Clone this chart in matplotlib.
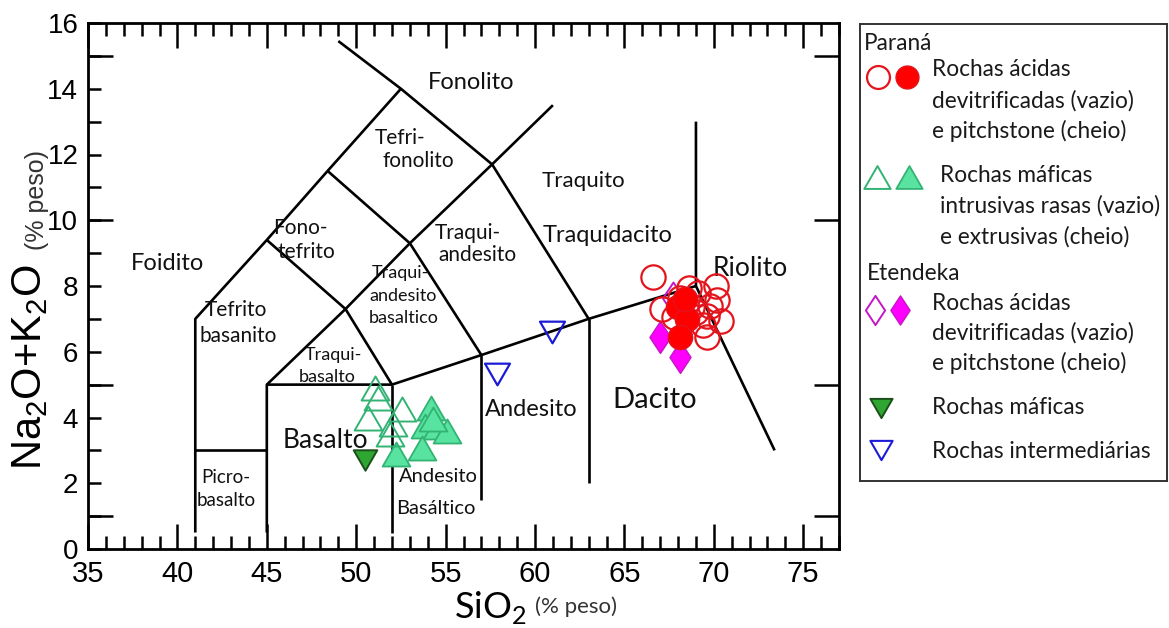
import matplotlib
matplotlib.use("Agg")
import matplotlib.pyplot as plt
from matplotlib.path import Path
from matplotlib.ticker import MultipleLocator, FixedLocator, NullFormatter

plt.rcParams['font.family'] = ['Lato', 'DejaVu Sans']

# ---- TAS classification boundaries (SiO2, Na2O+K2O) ----
BOUNDARIES = [
    [(41, 0.5), (41, 7), (45, 9.4), (48.4, 11.5), (52.5, 14), (49.0, 15.45)],
    [(41, 3), (45, 3)],
    [(45, 0.5), (45, 5), (49.4, 7.3), (53, 9.3), (57.6, 11.7), (61, 13.5)],
    [(45, 5), (52, 5), (57, 5.9), (63, 7), (69, 8)],
    [(52, 0.5), (52, 5)],
    [(57, 1.5), (57, 5.9)],
    [(63, 2), (63, 7)],
    [(45, 9.4), (49.4, 7.3), (52, 5)],
    [(48.4, 11.5), (53, 9.3), (57, 5.9)],
    [(52.5, 14), (57.6, 11.7), (63, 7)],
    [(69, 13), (69, 8), (73.4, 3)],
]

# field names: (text, SiO2, alkalis, fontsize)
FIELD_LABELS = [
    ("Fonolito", 56.4, 14.18, 17),
    ("Tefri-", 52.45, 12.51, 15),
    ("fonolito", 53.46, 11.81, 15),
    ("Traquito", 62.7, 11.2, 16),
    ("Fono-", 46.86, 9.75, 15),
    ("tefrito", 47.19, 9.02, 15),
    ("Foidito", 39.42, 8.68, 17),
    ("Traqui-", 56.25, 9.62, 15),
    ("andesito", 56.76, 8.93, 15),
    ("Traquidacito", 64.08, 9.53, 17),
    ("Riolito", 72.02, 8.53, 19),
    ("Tefrito", 43.28, 7.26, 15),
    ("basanito", 43.39, 6.47, 15),
    ("Traqui-", 52.45, 8.41, 13),
    ("andesito", 52.62, 7.71, 13),
    ("basaltico", 52.67, 7.04, 13),
    ("Traqui-", 48.7, 5.89, 13),
    ("basalto", 48.37, 5.22, 13),
    ("Basalto", 48.3, 3.3, 19),
    ("Andesito", 59.8, 4.25, 17),
    ("Dacito", 66.7, 4.52, 21),
    ("Andesito", 54.6, 2.2, 14.5),
    ("Basáltico", 54.45, 1.24, 14.5),
    ("Picro-", 42.72, 2.16, 13.5),
    ("basalto", 42.72, 1.49, 13.5),
]

# ---- samples ----
# Paraná acid rocks: devitrified (open) and pitchstone (filled)
parana_dev_sio2 = [66.6, 68.6, 69.1, 70.1, 70.2, 69.8, 70.4, 69.6, 67.1, 68.1, 69.4, 69.6, 67.8, 68.8, 69.0]
parana_dev_alk = [8.26, 7.95, 7.8, 8.0, 7.56, 7.4, 6.95, 7.1, 7.3, 7.65, 6.8, 6.45, 7.05, 7.35, 7.2]
parana_pit_sio2 = [68.0, 68.5, 68.4, 68.1]
parana_pit_alk = [7.35, 7.0, 7.6, 6.45]

# Paraná mafic rocks: shallow intrusive (open) and extrusive (filled)
parana_intr_sio2 = [51.05, 51.2, 50.66, 52.56, 51.9, 52.06]
parana_intr_alk = [4.89, 4.6, 3.98, 4.25, 3.49, 3.8]
parana_extr_sio2 = [54.2, 53.85, 54.5, 55.1, 53.7, 52.2, 54.3]
parana_extr_alk = [4.28, 3.75, 3.7, 3.6, 3.07, 2.9, 3.95]

# Etendeka acid rocks
etendeka_dev_sio2 = [67.7]
etendeka_dev_alk = [7.65]
etendeka_pit_sio2 = [67.0, 68.1]
etendeka_pit_alk = [6.45, 5.83]

# other groups
mafic_sio2 = [50.5]
mafic_alk = [2.7]
inter_sio2 = [60.95, 57.87]
inter_alk = [6.59, 5.31]


def closed(verts):
    return Path(list(verts) + [verts[0]], closed=True)


TRI_UP = closed([(0, 0.866), (-1, -0.866), (1, -0.866)])
TRI_DN = closed([(0, -0.866), (1, 0.866), (-1, 0.866)])
DIAMOND = closed([(0, 1), (0.66, 0), (0, -1), (-0.66, 0)])

RED = '#ff0000'
RED_EDGE = '#e3141c'
GREEN_FILL = '#58e3a0'
GREEN_EDGE = '#32b374'
MAG = '#ff00ff'
MAG_EDGE = '#c418c4'
DKGREEN = '#2fa632'
DKGREEN_EDGE = '#1b4f1b'
BLUE = '#1b1bd6'

W, H = 1169, 628
fig = plt.figure(figsize=(W / 100, H / 100), dpi=100)
ax = fig.add_axes([88 / W, 1 - 549 / H, (839 - 88) / W, (549 - 23) / H])
ax.set_xlim(35, 77)
ax.set_ylim(0, 16)

for seg in BOUNDARIES:
    xs, ys = zip(*seg)
    ax.plot(xs, ys, color='black', lw=1.9, zorder=2, solid_capstyle='butt')

for txt, x, y, fs in FIELD_LABELS:
    ax.text(x, y, txt, fontsize=fs, ha='center', va='center', color='#111111', zorder=3)

ax.plot(etendeka_pit_sio2, etendeka_pit_alk, ls='none', marker=DIAMOND, ms=23,
        mfc=MAG, mec=MAG_EDGE, mew=1.0, zorder=4)
ax.plot(etendeka_dev_sio2, etendeka_dev_alk, ls='none', marker=DIAMOND, ms=23,
        mfc='none', mec=MAG_EDGE, mew=1.4, zorder=4)
ax.plot(parana_dev_sio2, parana_dev_alk, ls='none', marker='o', ms=17.5,
        mfc='none', mec=RED_EDGE, mew=1.6, zorder=5)
ax.plot(parana_pit_sio2, parana_pit_alk, ls='none', marker='o', ms=17.5,
        mfc=RED, mec=RED_EDGE, mew=1.0, zorder=6)

ax.plot(mafic_sio2, mafic_alk, ls='none', marker=TRI_DN, ms=17,
        mfc=DKGREEN, mec=DKGREEN_EDGE, mew=1.4, zorder=4)
ax.plot(parana_extr_sio2, parana_extr_alk, ls='none', marker=TRI_UP, ms=20,
        mfc=GREEN_FILL, mec=GREEN_EDGE, mew=1.3, zorder=5)
ax.plot(parana_intr_sio2, parana_intr_alk, ls='none', marker=TRI_UP, ms=20,
        mfc='none', mec=GREEN_EDGE, mew=1.4, zorder=6)
ax.plot(inter_sio2, inter_alk, ls='none', marker=TRI_DN, ms=18,
        mfc='none', mec=BLUE, mew=1.6, zorder=5)

# axes frame and ticks
for sp in ax.spines.values():
    sp.set_linewidth(2.0)
ax.xaxis.set_major_locator(MultipleLocator(5))
ax.xaxis.set_minor_locator(MultipleLocator(1))
ax.yaxis.set_major_locator(MultipleLocator(2))
ax.yaxis.set_minor_locator(MultipleLocator(1))
ax.tick_params(which='both', direction='in', top=True, right=True, width=1.8)
ax.tick_params(axis='x', which='major', length=18, pad=8)
ax.tick_params(axis='x', which='minor', length=9.5)
ax.tick_params(axis='y', which='major', length=9.5, pad=7)
ax.tick_params(axis='y', which='minor', length=9.5)
for lab in ax.get_xticklabels():
    lab.set_family('Liberation Sans')
    lab.set_fontsize(21)
for lab in ax.get_yticklabels():
    lab.set_family('Liberation Sans')
    lab.set_fontsize(20)

# longer y ticks on both sides
ax2 = ax.twinx()
ax2.set_ylim(ax.get_ylim())
ax2.yaxis.set_major_locator(FixedLocator([1, 5, 10, 15]))
ax2.yaxis.set_major_formatter(NullFormatter())
ax2.tick_params(axis='y', which='major', direction='in', left=True, right=True,
                length=18, width=1.8, labelleft=False, labelright=False)
for sp in ax2.spines.values():
    sp.set_visible(False)

# axis titles
fig.text(30 / W, 1 - 470 / H, r'Na$_\mathregular{2}$O+K$_\mathregular{2}$O',
         rotation=90, ha='center', va='bottom', fontsize=30, family='Liberation Sans')
fig.text(37 / W, 1 - 250 / H, '(% peso)', rotation=90, ha='center', va='bottom',
         fontsize=18, family='Liberation Sans', color='#333333')
fig.text(527 / W, 1 - 607 / H, r'SiO$_\mathregular{2}$', ha='right', va='center',
         fontsize=26)
fig.text(535 / W, 1 - 607 / H, '(% peso)', ha='left', va='center', fontsize=16,
         color='#333333')

# legend panel
lax = fig.add_axes([860 / W, 1 - 481 / H, 307 / W, 457 / H])
lax.set_xlim(0, 307)
lax.set_ylim(457, 0)
lax.set_xticks([])
lax.set_yticks([])
for sp in lax.spines.values():
    sp.set_linewidth(1.4)
    sp.set_color('#333333')

LTXT = dict(fontsize=16.3, ha='left', va='center', color='#1a1a1a')
lax.text(4, 19, 'Paraná', **LTXT)
lax.plot([18], [53], marker='o', ms=16.5, mfc='none', mec=RED_EDGE, mew=1.6)
lax.plot([47], [53], marker='o', ms=16.5, mfc=RED, mec=RED_EDGE, mew=1.0)
for i, t in enumerate(['Rochas ácidas', 'devitrificadas (vazio)', 'e pitchstone (cheio)']):
    lax.text(72, 46 + 30.5 * i, t, **LTXT)

lax.plot([17], [153], marker=TRI_UP, ms=19, mfc='none', mec=GREEN_EDGE, mew=1.4)
lax.plot([49], [153], marker=TRI_UP, ms=19, mfc=GREEN_FILL, mec=GREEN_EDGE, mew=1.3)
for i, t in enumerate(['Rochas máficas', 'intrusivas rasas (vazio)', 'e extrusivas (cheio)']):
    lax.text(80, 151 + 31 * i, t, **LTXT)

lax.text(7, 249, 'Etendeka', **LTXT)
lax.plot([15], [286], marker=DIAMOND, ms=21, mfc='none', mec=MAG_EDGE, mew=1.4)
lax.plot([40], [286], marker=DIAMOND, ms=21, mfc=MAG, mec=MAG_EDGE, mew=1.0)
for i, t in enumerate(['Rochas ácidas', 'devitrificadas (vazio)', 'e pitchstone (cheio)']):
    lax.text(72, 279 + 30 * i, t, **LTXT)

lax.plot([21], [384], marker=TRI_DN, ms=16, mfc=DKGREEN, mec=DKGREEN_EDGE, mew=1.4)
lax.text(72, 383, 'Rochas máficas', **LTXT)
lax.plot([21], [426], marker=TRI_DN, ms=16, mfc='none', mec=BLUE, mew=1.5)
lax.text(72, 428, 'Rochas intermediárias', **LTXT)

fig.savefig('out.png', dpi=100, facecolor='white')
